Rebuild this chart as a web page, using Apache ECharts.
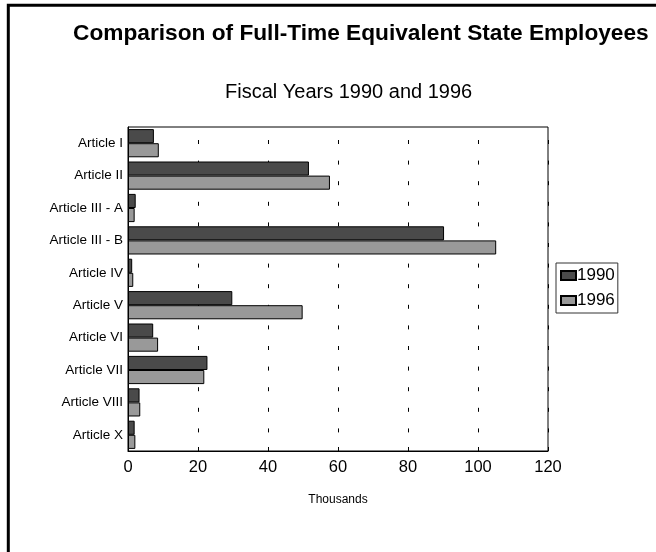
<!DOCTYPE html>
<html>
<head>
<meta charset="utf-8">
<script src="https://cdn.jsdelivr.net/npm/echarts@6/dist/echarts.min.js"></script>
<style>
html,body{margin:0;padding:0;background:#fff;}
#chart{width:656px;height:552px;}
</style>
</head>
<body>
<div id="chart"></div>
<script>
var categories = ['Article I','Article II','Article III - A','Article III - B','Article IV','Article V','Article VI','Article VII','Article VIII','Article X'];
var values1990 = [7.4, 51.7, 2.2, 90.3, 1.2, 29.8, 7.2, 22.7, 3.3, 1.9];
var values1996 = [8.8, 57.7, 1.9, 105.2, 1.5, 49.9, 8.6, 21.8, 3.5, 2.1];
var xTicks = [0, 20, 40, 60, 80, 100, 120];

var FONT = '"Liberation Sans", Arial, sans-serif';
var chart = echarts.init(document.getElementById('chart'), null, {renderer: 'canvas'});
chart.setOption({
  animation: false,
  backgroundColor: '#fff',
  graphic: [{
    type: 'rect',
    shape: {x: 8.3, y: 5.2, width: 800, height: 800},
    style: {fill: 'none', stroke: '#000', lineWidth: 3},
    z: 100
  }],
  title: [{
    text: 'Comparison of Full-Time Equivalent State Employees',
    left: 73, top: 22, padding: 0,
    textStyle: {fontFamily: FONT, fontSize: 22.7, fontWeight: 'bold', color: '#000'}
  }, {
    text: 'Fiscal Years 1990 and 1996',
    left: 225, top: 82, padding: 0,
    textStyle: {fontFamily: FONT, fontSize: 20, fontWeight: 'normal', color: '#000'}
  }],
  legend: {
    orient: 'vertical',
    left: 556, top: 263,
    padding: [4, 3, 4, 4],
    itemGap: 8,
    itemWidth: 15, itemHeight: 9,
    borderColor: '#333', borderWidth: 1,
    icon: 'rect',
    data: ['1990', '1996'],
    textStyle: {fontFamily: FONT, fontSize: 17, color: '#000', padding: [0, 0, 0, -4]}
  },
  grid: {
    left: 128, top: 127, width: 420, height: 324,
    show: true, borderColor: '#000', borderWidth: 1, backgroundColor: 'transparent',
    containLabel: false
  },
  xAxis: {
    type: 'value', min: xTicks[0], max: xTicks[xTicks.length - 1], interval: 20,
    name: 'Thousands', nameLocation: 'middle', nameGap: 43,
    nameTextStyle: {fontFamily: FONT, fontSize: 12, color: '#000'},
    axisLine: {show: true, lineStyle: {color: '#000', width: 1}},
    axisTick: {show: true, inside: true, length: 4, lineStyle: {color: '#000'}},
    axisLabel: {fontFamily: FONT, fontSize: 16.5, color: '#000', margin: 8},
    splitLine: {show: true, lineStyle: {color: '#000', width: 1, type: [4, 16.6], dashOffset: 7.6}}
  },
  yAxis: {
    type: 'category', data: categories, inverse: true,
    axisLine: {show: true, lineStyle: {color: '#000', width: 1}},
    axisTick: {show: false},
    axisLabel: {fontFamily: FONT, fontSize: 13.5, color: '#000', margin: 5},
    splitLine: {show: false}
  },
  series: [{
    name: '1990', type: 'bar', data: values1990,
    barGap: '0%', barCategoryGap: '13%',
    itemStyle: {color: '#4a4a4a', borderColor: '#000', borderWidth: 1}
  }, {
    name: '1996', type: 'bar', data: values1996,
    barGap: '0%', barCategoryGap: '13%',
    itemStyle: {color: '#999999', borderColor: '#000', borderWidth: 1}
  }]
});
</script>
</body>
</html>
